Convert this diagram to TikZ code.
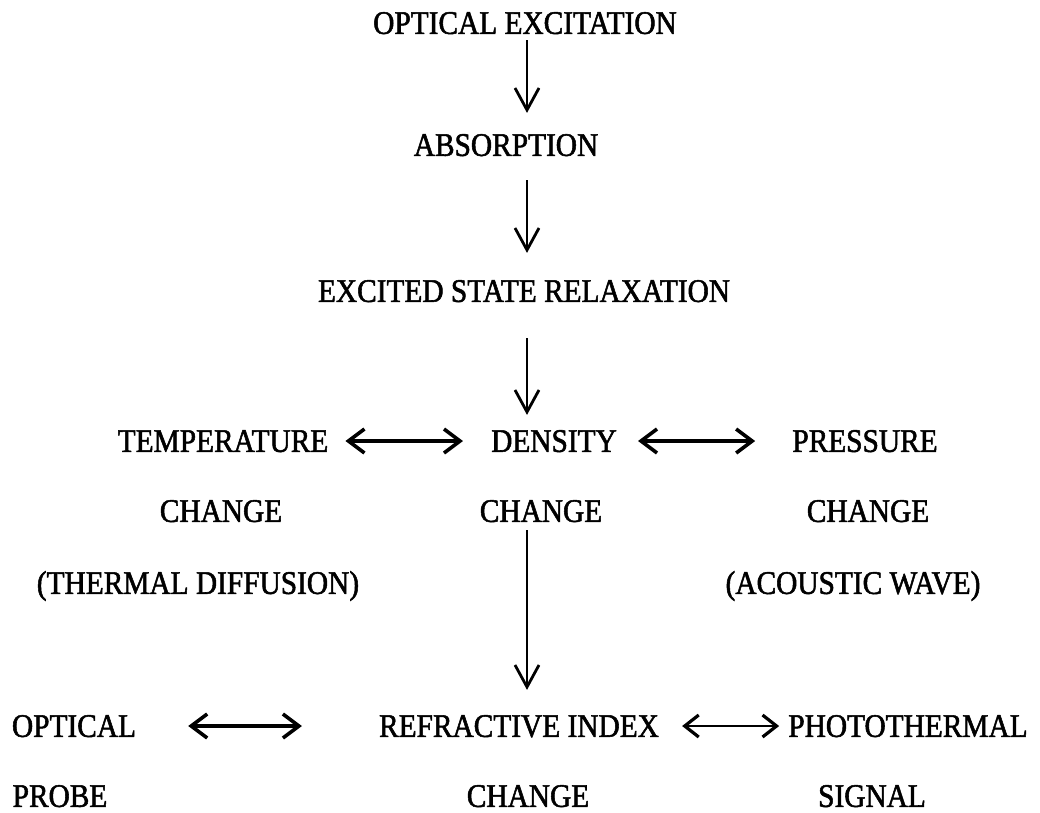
\documentclass[tikz,border=0pt]{standalone}
\usepackage{fontspec}
\setmainfont{Liberation Serif}[FakeStretch=0.89,FakeBold=1.6]
\usetikzlibrary{arrows.meta}
\begin{document}
\begin{tikzpicture}[x=1pt,y=-1pt,
  lbl/.style={inner sep=0pt,text height=21.8pt,text depth=0pt,font=\fontsize{33}{36}\selectfont},
  varr/.style={line width=2.2pt,-{Straight Barb[length=22pt,width=24pt,line width=2.8pt]}},
  harr/.style={line width=3.2pt,{Straight Barb[length=16pt,width=24pt,line width=3.6pt]}-{Straight Barb[length=16pt,width=24pt,line width=3.6pt]}},
  harrthin/.style={line width=2.4pt,{Straight Barb[length=14pt,width=22pt,line width=3.2pt]}-{Straight Barb[length=14pt,width=22pt,line width=3.2pt]}}]
\useasboundingbox (0,0) rectangle (1040,812);
\coordinate (ax) at (527,0);
\node[lbl] (oe) at (525,23) {OPTICAL EXCITATION};
\node[lbl] (abs) at (506,145) {ABSORPTION};
\node[lbl] (esr) at (524,291) {EXCITED STATE RELAXATION};
\node[lbl] (temp) at (223,441) {TEMPERATURE};
\node[lbl] (dens) at (554,441) {DENSITY};
\node[lbl] (pres) at (865,441) {PRESSURE};
\node[lbl] (ch1) at (221,511) {CHANGE};
\node[lbl] (ch2) at (541,511) {CHANGE};
\node[lbl] (ch3) at (868,511) {CHANGE};
\node[lbl] (td) at (198,583) {(THERMAL DIFFUSION)};
\node[lbl] (aw) at (853,583) {(ACOUSTIC WAVE)};
\node[lbl] (op) at (74,726) {OPTICAL};
\node[lbl] (ri) at (519,726) {REFRACTIVE INDEX};
\node[lbl] (pt) at (908,726) {PHOTOTHERMAL};
\node[lbl] (pr) at (60,796) {PROBE};
\node[lbl] (ch4) at (528,796) {CHANGE};
\node[lbl] (sg) at (872,796) {SIGNAL};
\draw[varr,shorten <=6pt,shorten >=21pt] (oe.south -| ax) -- (abs.north -| ax);
\draw[varr,shorten <=24pt,shorten >=27pt] (abs.south -| ax) -- (esr.north -| ax);
\draw[varr,shorten <=36pt,shorten >=15pt] (esr.south -| ax) -- (dens.north -| ax);
\draw[varr,shorten <=8pt,shorten >=25pt] (ch2.south -| ax) -- (ri.north -| ax);
\draw[harr,shorten <=17pt,shorten >=28pt] (temp.east) -- (dens.west);
\draw[harr,shorten <=21pt,shorten >=37pt] (dens.east) -- (pres.west);
\draw[harr,shorten <=52pt,shorten >=77pt] (op.east) -- (ri.west);
\draw[harrthin,shorten <=23pt,shorten >=9pt] (ri.east) -- (pt.west);
\end{tikzpicture}
\end{document}
